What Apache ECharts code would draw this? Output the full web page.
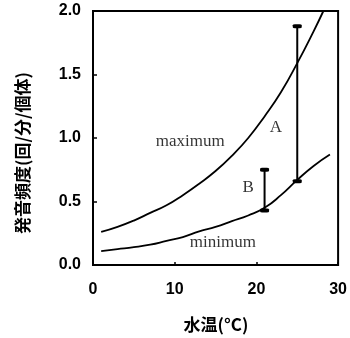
<!DOCTYPE html>
<html>
<head>
<meta charset="utf-8">
<script src="https://cdn.jsdelivr.net/npm/echarts@6/dist/echarts.min.js"></script>
<style>
  html, body { margin: 0; padding: 0; background: #fff; }
  #chart { width: 350px; height: 338px; }
</style>
</head>
<body>
<div id="chart"></div>
<script>
// Water temperature (°C) and calling rate (calls / min / individual)
const maxTemp = [1, 3, 5, 7, 9, 11, 13, 15, 17, 19, 21, 23, 25, 27, 28.2];
const maxRate = [0.26, 0.30, 0.35, 0.41, 0.47, 0.55, 0.64, 0.74, 0.86, 1.00, 1.17, 1.36, 1.59, 1.84, 2.0];
const minTemp = [1, 3, 5, 7, 9, 11, 13, 15, 17, 19, 21, 23, 25, 27, 29];
const minRate = [0.11, 0.125, 0.14, 0.16, 0.19, 0.22, 0.265, 0.30, 0.345, 0.39, 0.45, 0.55, 0.67, 0.78, 0.87];

// Ranges A and B (temperature, low, high)
const rangeA = [25, 0.66, 1.88];
const rangeB = [21, 0.43, 0.75];

const xTicks = [0, 10, 20, 30];
const yTicks = ['0.0', '0.5', '1.0', '1.5', '2.0'];

const pairs = (xs, ys) => xs.map((x, i) => [x, ys[i]]);

const chart = echarts.init(document.getElementById('chart'), null, { renderer: 'canvas' });

const curveStyle = { color: '#000', width: 1.8 };
const barSeries = (r) => ({
  type: 'line',
  data: [[r[0], r[1]], [r[0], r[2]]],
  symbol: 'roundRect',
  symbolSize: [9, 4],
  itemStyle: { color: '#000' },
  lineStyle: { color: '#000', width: 2 },
  silent: true,
  z: 3
});
const noteFont = { fontFamily: 'Liberation Serif', fontSize: 17, color: '#000' };
const note = (x, y, text) => ({
  value: [x, y],
  label: Object.assign({ show: true, position: 'inside', formatter: text }, noteFont)
});

chart.setOption({
  animation: false,
  backgroundColor: '#fff',
  grid: {
    left: 93, right: 11, top: 11, bottom: 73,
    show: true, borderColor: '#000', borderWidth: 2
  },
  xAxis: {
    type: 'value', min: 0, max: 30, interval: 10,
    axisLine: { show: true, onZero: false, lineStyle: { color: '#000', width: 2 } },
    axisTick: { show: true, inside: true, length: 3, lineStyle: { color: '#000', width: 1.5 } },
    splitLine: { show: false },
    axisLabel: {
      margin: 17, color: '#000', fontFamily: 'Liberation Sans', fontWeight: 'bold', fontSize: 16,
      formatter: (v) => String(xTicks[xTicks.indexOf(v)])
    }
  },
  yAxis: {
    type: 'value', min: 0, max: 2, interval: 0.5,
    axisLine: { show: true, onZero: false, lineStyle: { color: '#000', width: 2 } },
    axisTick: { show: true, inside: true, length: 4, lineStyle: { color: '#000', width: 1.5 } },
    splitLine: { show: false },
    axisLabel: {
      margin: 12, color: '#000', fontFamily: 'Liberation Sans', fontWeight: 'bold', fontSize: 16,
      formatter: (v) => yTicks[Math.round(v / 0.5)]
    }
  },
  graphic: [
    {
      type: 'text', x: 23, y: 153, rotation: Math.PI / 2,
      style: {
        text: '発音頻度(回/分/個体)', fill: '#000',
        font: 'bold 17px "Noto Sans CJK JP"', align: 'center', verticalAlign: 'middle'
      }
    },
    {
      type: 'text', x: 216, y: 325,
      style: {
        text: '水温(°C)', fill: '#000',
        font: 'bold 17px "Noto Sans CJK JP"', align: 'center', verticalAlign: 'middle'
      }
    }
  ],
  series: [
    {
      type: 'line', data: pairs(maxTemp, maxRate), smooth: true, showSymbol: false,
      lineStyle: curveStyle, silent: true, clip: true
    },
    {
      type: 'line', data: pairs(minTemp, minRate), smooth: true, showSymbol: false,
      lineStyle: curveStyle, silent: true, clip: true
    },
    barSeries(rangeA),
    barSeries(rangeB),
    {
      type: 'scatter', symbolSize: 0, silent: true,
      data: [
        note(11.9, 0.975, 'maximum'),
        note(15.9, 0.18, 'minimum'),
        note(22.4, 1.08, 'A'),
        note(19.0, 0.61, 'B')
      ]
    }
  ]
});
</script>
</body>
</html>
